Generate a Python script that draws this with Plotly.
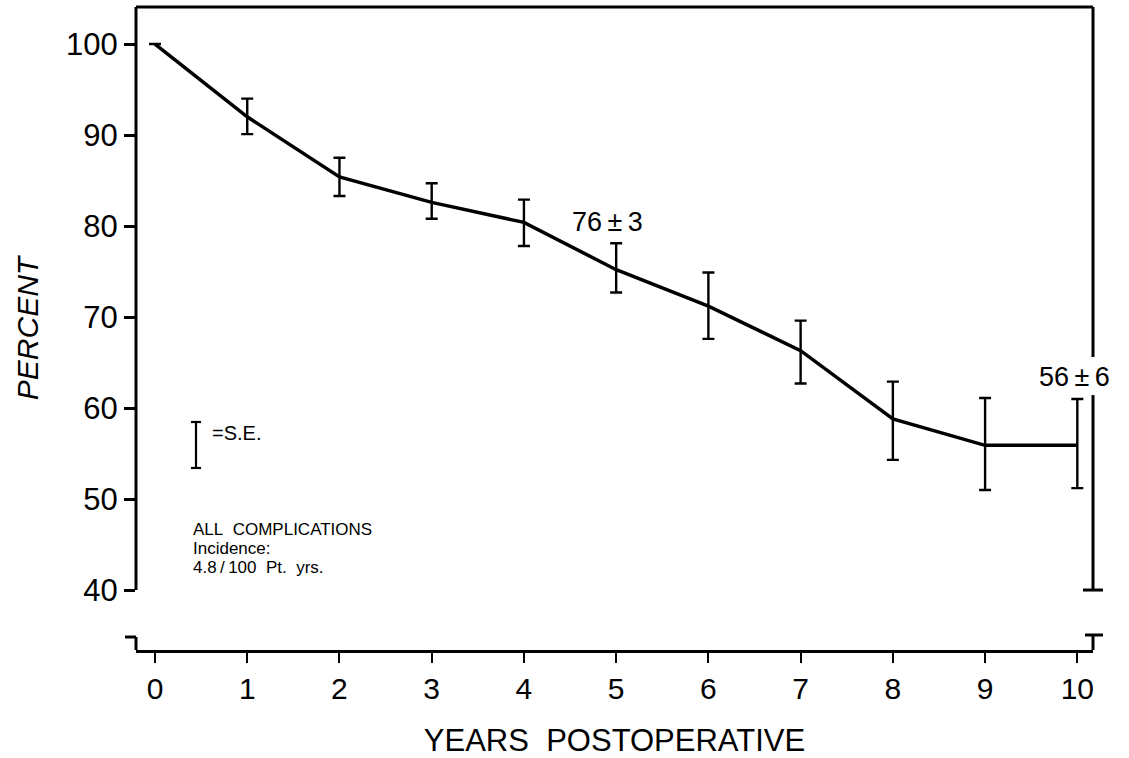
import plotly.graph_objects as go

# ---- data ----
years = [0, 1, 2, 3, 4, 5, 6, 7, 8, 9, 10]
percent = [100, 92.0, 85.4, 82.6, 80.4, 75.2, 71.2, 66.3, 58.8, 55.9, 55.9]
se_upper = [0, 2.0, 2.1, 2.1, 2.5, 2.9, 3.7, 3.3, 4.1, 5.2, 5.1]
se_lower = [0, 1.9, 2.1, 1.8, 2.6, 2.5, 3.6, 3.6, 4.5, 4.9, 4.7]
y_ticks = [40, 50, 60, 70, 80, 90, 100]
x_ticks = list(range(0, 11))
ann_mid = "76\u2009\u00b1\u20093"
ann_end = "56\u2009\u00b1\u20096"

# ---- layout geometry ----
W, H = 1129, 758
ML, MR, MT, MB = 136, 36, 7, 108
XR = [-0.206, 10.17]
YR = [33.41, 104.07]
FONT = "Liberation Sans, Arial, sans-serif"


def pxx(v):  # data x -> paper
    return (v - XR[0]) / (XR[1] - XR[0])


def pyy(v):  # data y -> paper
    return (v - YR[0]) / (YR[1] - YR[0])


pw = W - ML - MR
ph = H - MT - MB
dx = 1.0 / pw  # one pixel in paper x
dy = 1.0 / ph  # one pixel in paper y

fig = go.Figure()
fig.add_trace(go.Scatter(
    x=years, y=percent, mode="lines",
    line=dict(color="black", width=3.5),
    error_y=dict(type="data", symmetric=False, array=se_upper, arrayminus=se_lower,
                 color="black", thickness=2.4, width=6),
    showlegend=False, hoverinfo="skip",
))

shapes = []


def seg(x0, y0, x1, y1, w=3):
    shapes.append(dict(type="line", xref="paper", yref="paper", x0=x0, y0=y0, x1=x1, y1=y1,
                       line=dict(color="black", width=w), layer="above"))


y40 = pyy(40)
# frame
seg(0, 1, 1, 1)
seg(0, 1, 0, y40)
gap_top = pyy(63.4) + 20 * dy
gap_bot = pyy(63.4) - 18 * dy
seg(1, 1, 1, gap_top)
seg(1, gap_bot, 1, y40)
seg(1 - 10 * dx, y40, 1 + 10 * dx, y40)
# broken-axis marks
seg(0, 0, 0, 13 * dy)
seg(-11 * dx, 13 * dy, 0, 13 * dy)
seg(1, 0, 1, 15 * dy)
seg(1 - 8 * dx, 15 * dy, 1 + 10 * dx, 15 * dy)
# S.E. legend glyph
gx = 196
gyc = 445
seg((gx - ML) * dx, (H - MB - (gyc - 23)) * dy, (gx - ML) * dx, (H - MB - (gyc + 23)) * dy, 2.2)
seg((gx - ML - 5) * dx, (H - MB - (gyc - 23)) * dy, (gx - ML + 5) * dx, (H - MB - (gyc - 23)) * dy, 2.2)
seg((gx - ML - 5) * dx, (H - MB - (gyc + 23)) * dy, (gx - ML + 5) * dx, (H - MB - (gyc + 23)) * dy, 2.2)

annotations = [
    dict(x=4.91, y=80.4, xref="x", yref="y", text=ann_mid, showarrow=False,
         font=dict(size=27, family=FONT, color="black")),
    dict(x=9.97, y=63.4, xref="x", yref="y", text=ann_end, showarrow=False,
         font=dict(size=27, family=FONT, color="black")),
    dict(x=(210 - ML) * dx, y=(H - MB - 446) * dy, xref="paper", yref="paper", text="=S.E.",
         showarrow=False, xanchor="left", font=dict(size=20, family=FONT, color="black")),
    dict(x=(191 - ML) * dx, y=(H - MB - 541) * dy, xref="paper", yref="paper",
         text="ALL\u00a0\u00a0COMPLICATIONS", showarrow=False, xanchor="left",
         font=dict(size=17, family=FONT, color="black")),
    dict(x=(191 - ML) * dx, y=(H - MB - 560) * dy, xref="paper", yref="paper",
         text="Incidence:", showarrow=False, xanchor="left",
         font=dict(size=17, family=FONT, color="black")),
    dict(x=(191 - ML) * dx, y=(H - MB - 579) * dy, xref="paper", yref="paper",
         text="4.8\u2009/\u2009100\u00a0\u00a0Pt.\u00a0\u00a0yrs.", showarrow=False, xanchor="left",
         font=dict(size=17, family=FONT, color="black")),
]

fig.update_layout(
    width=W, height=H,
    margin=dict(l=ML, r=MR, t=MT, b=MB, pad=0, autoexpand=False),
    paper_bgcolor="white", plot_bgcolor="white",
    shapes=shapes, annotations=annotations,
    xaxis=dict(range=XR, tickvals=x_ticks, ticktext=[str(t) for t in x_ticks],
               automargin=False,
               showgrid=False, zeroline=False, showline=True, linecolor="black", linewidth=3,
               ticks="outside", ticklen=10, tickwidth=2.4, tickcolor="black",
               tickfont=dict(size=30, family=FONT, color="black"),
               title=dict(text="YEARS\u00a0\u00a0POSTOPERATIVE", standoff=28,
                          font=dict(size=31, family=FONT, color="black"))),
    yaxis=dict(range=YR, tickvals=y_ticks, ticktext=[str(t) for t in y_ticks],
               automargin=False,
               showgrid=False, zeroline=False, showline=False,
               ticks="outside", ticklen=11, tickwidth=2.6, tickcolor="black",
               tickfont=dict(size=31, family=FONT, color="black"),
               title=dict(text="<i>PERCENT</i>", standoff=18,
                          font=dict(size=30, family=FONT, color="black"))),
)

fig.write_html("out.html")
